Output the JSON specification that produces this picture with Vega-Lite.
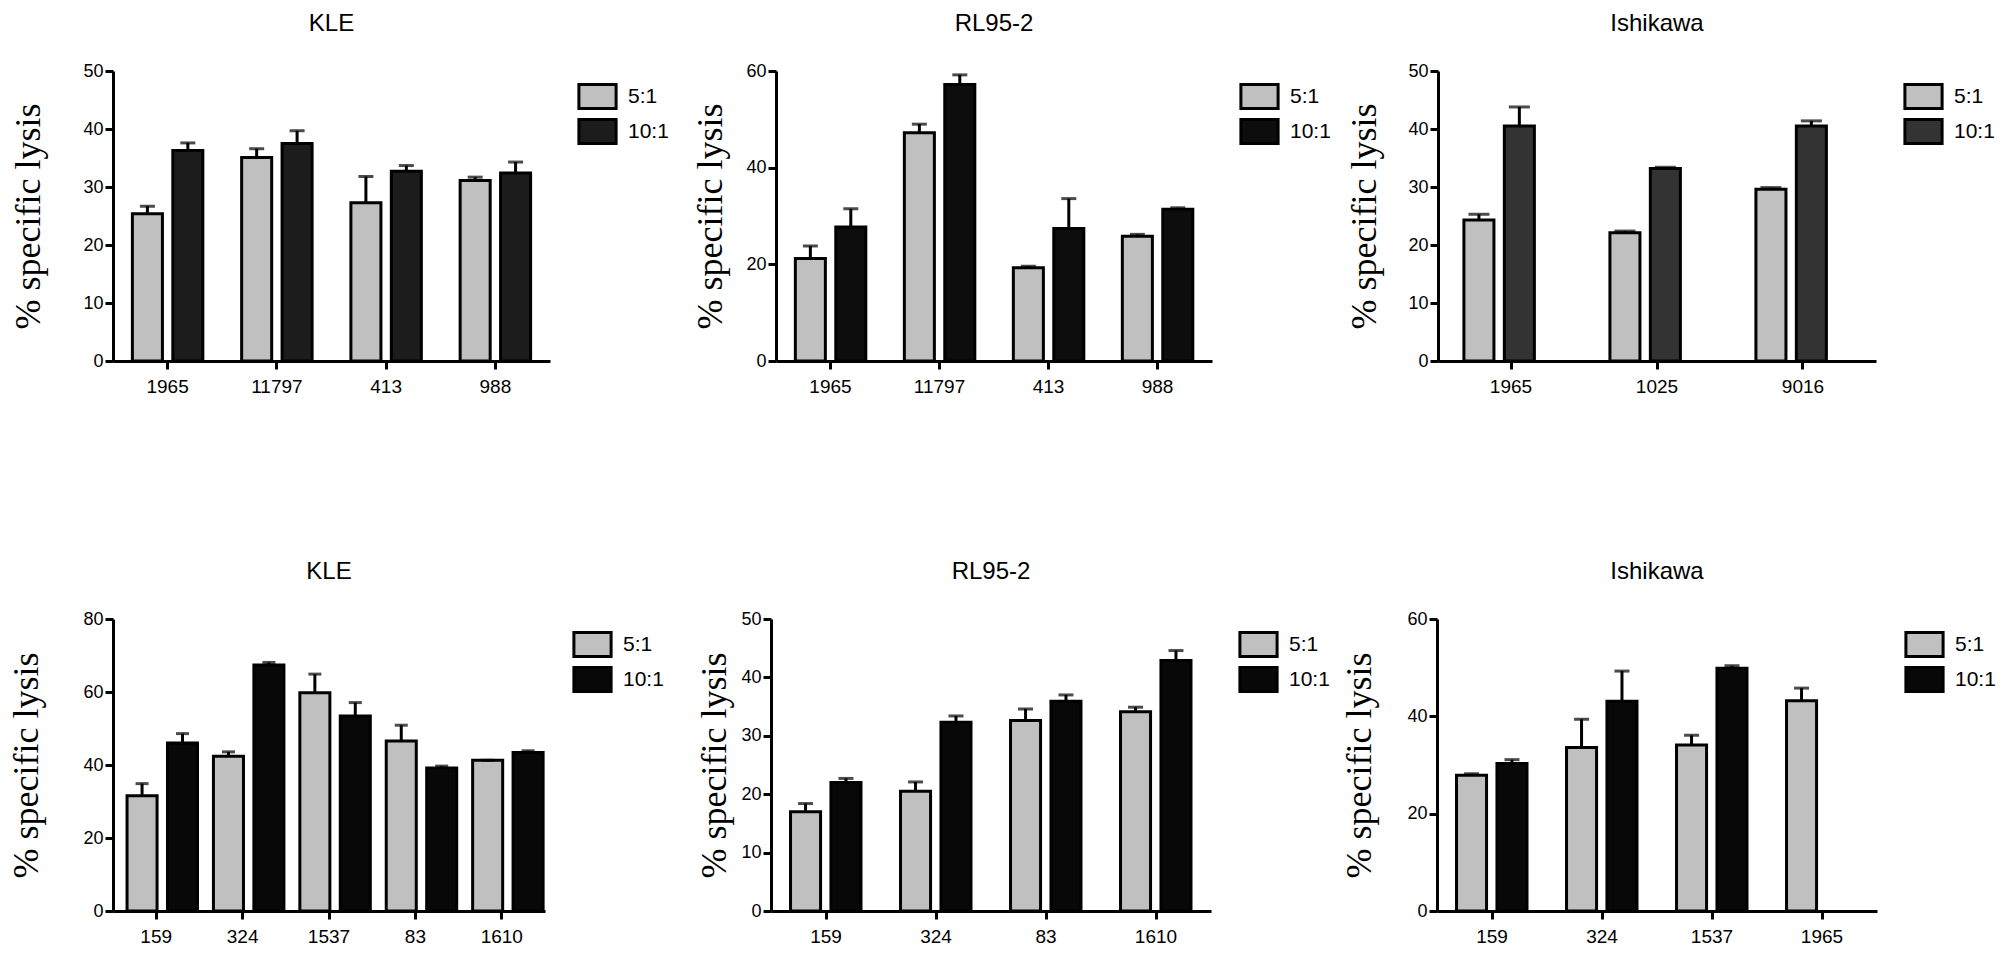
{
  "$schema": "https://vega.github.io/schema/vega-lite/v6.json",
  "padding": {"left": 8, "top": 12, "right": 0, "bottom": 0},
  "background": "white",
  "datasets": {
    "d": [
      {"p": "tk", "cat": "1965", "r": "5:1", "v": 25.4, "hi": 26.7},
      {"p": "tk", "cat": "1965", "r": "10:1", "v": 36.3, "hi": 37.6},
      {"p": "tk", "cat": "11797", "r": "5:1", "v": 35.1, "hi": 36.6},
      {"p": "tk", "cat": "11797", "r": "10:1", "v": 37.5, "hi": 39.7},
      {"p": "tk", "cat": "413", "r": "5:1", "v": 27.3, "hi": 31.8},
      {"p": "tk", "cat": "413", "r": "10:1", "v": 32.7, "hi": 33.7},
      {"p": "tk", "cat": "988", "r": "5:1", "v": 31.1, "hi": 31.7},
      {"p": "tk", "cat": "988", "r": "10:1", "v": 32.4, "hi": 34.3},

      {"p": "tr", "cat": "1965", "r": "5:1", "v": 21.2, "hi": 23.8},
      {"p": "tr", "cat": "1965", "r": "10:1", "v": 27.7, "hi": 31.5},
      {"p": "tr", "cat": "11797", "r": "5:1", "v": 47.2, "hi": 49.0},
      {"p": "tr", "cat": "11797", "r": "10:1", "v": 57.2, "hi": 59.2},
      {"p": "tr", "cat": "413", "r": "5:1", "v": 19.3, "hi": 19.6},
      {"p": "tr", "cat": "413", "r": "10:1", "v": 27.4, "hi": 33.6},
      {"p": "tr", "cat": "988", "r": "5:1", "v": 25.8, "hi": 26.2},
      {"p": "tr", "cat": "988", "r": "10:1", "v": 31.4, "hi": 31.7},

      {"p": "ti", "cat": "1965", "r": "5:1", "v": 24.3, "hi": 25.3},
      {"p": "ti", "cat": "1965", "r": "10:1", "v": 40.5, "hi": 43.8},
      {"p": "ti", "cat": "1025", "r": "5:1", "v": 22.1, "hi": 22.4},
      {"p": "ti", "cat": "1025", "r": "10:1", "v": 33.2, "hi": 33.4},
      {"p": "ti", "cat": "9016", "r": "5:1", "v": 29.6, "hi": 29.9},
      {"p": "ti", "cat": "9016", "r": "10:1", "v": 40.5, "hi": 41.4},

      {"p": "bk", "cat": "159", "r": "5:1", "v": 31.6, "hi": 34.9},
      {"p": "bk", "cat": "159", "r": "10:1", "v": 46.0, "hi": 48.6},
      {"p": "bk", "cat": "324", "r": "5:1", "v": 42.4, "hi": 43.6},
      {"p": "bk", "cat": "324", "r": "10:1", "v": 67.4, "hi": 68.1},
      {"p": "bk", "cat": "1537", "r": "5:1", "v": 59.8, "hi": 64.9},
      {"p": "bk", "cat": "1537", "r": "10:1", "v": 53.4, "hi": 57.1},
      {"p": "bk", "cat": "83", "r": "5:1", "v": 46.6, "hi": 50.9},
      {"p": "bk", "cat": "83", "r": "10:1", "v": 39.2, "hi": 39.7},
      {"p": "bk", "cat": "1610", "r": "5:1", "v": 41.3, "hi": 41.3},
      {"p": "bk", "cat": "1610", "r": "10:1", "v": 43.4, "hi": 43.9},

      {"p": "br", "cat": "159", "r": "5:1", "v": 17.0, "hi": 18.4},
      {"p": "br", "cat": "159", "r": "10:1", "v": 22.0, "hi": 22.7},
      {"p": "br", "cat": "324", "r": "5:1", "v": 20.5, "hi": 22.1},
      {"p": "br", "cat": "324", "r": "10:1", "v": 32.3, "hi": 33.4},
      {"p": "br", "cat": "83", "r": "5:1", "v": 32.6, "hi": 34.6},
      {"p": "br", "cat": "83", "r": "10:1", "v": 35.9, "hi": 37.0},
      {"p": "br", "cat": "1610", "r": "5:1", "v": 34.1, "hi": 34.9},
      {"p": "br", "cat": "1610", "r": "10:1", "v": 42.9, "hi": 44.6},

      {"p": "bi", "cat": "159", "r": "5:1", "v": 27.9, "hi": 28.2},
      {"p": "bi", "cat": "159", "r": "10:1", "v": 30.3, "hi": 31.1},
      {"p": "bi", "cat": "324", "r": "5:1", "v": 33.6, "hi": 39.4},
      {"p": "bi", "cat": "324", "r": "10:1", "v": 43.1, "hi": 49.3},
      {"p": "bi", "cat": "1537", "r": "5:1", "v": 34.1, "hi": 36.1},
      {"p": "bi", "cat": "1537", "r": "10:1", "v": 49.9, "hi": 50.4},
      {"p": "bi", "cat": "1965", "r": "5:1", "v": 43.2, "hi": 45.8}
    ]
  },
  "data": {"name": "d"},
  "spacing": 164,
  "resolve": {"scale": {"color": "independent"}, "legend": {"color": "independent"}},
  "vconcat": [
    {
      "spacing": 226,
      "bounds": "flush",
      "resolve": {"scale": {"color": "independent"}, "legend": {"color": "independent"}},
      "hconcat": [
        {
          "width": 437, "height": 290,
          "title": "KLE",
          "transform": [{"filter": "datum.p == 'tk'"}],
          "encoding": {
            "x": {"field": "cat", "type": "nominal", "sort": null, "scale": {"paddingInner": 0.355, "paddingOuter": 0.1775}},
            "xOffset": {"field": "r", "type": "nominal", "scale": {"domain": ["5:1", "10:1"], "paddingInner": 0.257, "paddingOuter": 0}},
            "y": {"field": "v", "type": "quantitative", "title": "% specific lysis", "scale": {"domain": [0, 50], "nice": false}, "axis": {"values": [0, 10, 20, 30, 40, 50], "titlePadding": 35}}
          },
          "layer": [
            {"mark": {"type": "bar", "stroke": "black", "strokeWidth": 3},
             "encoding": {"color": {"field": "r", "type": "nominal", "scale": {"domain": ["5:1", "10:1"], "range": ["#c0c0c0", "#1c1c1c"]}, "legend": {"title": null}}}},
            {"mark": {"type": "rule", "color": "black", "strokeWidth": 3}, "encoding": {"y2": {"field": "hi"}}},
            {"mark": {"type": "tick", "color": "black", "thickness": 3, "size": 15}, "encoding": {"y": {"field": "hi", "type": "quantitative", "title": "% specific lysis", "scale": {"domain": [0, 50], "nice": false}}}}
          ]
        },
        {
          "width": 436, "height": 290,
          "title": "RL95-2",
          "transform": [{"filter": "datum.p == 'tr'"}],
          "encoding": {
            "x": {"field": "cat", "type": "nominal", "sort": null, "scale": {"paddingInner": 0.355, "paddingOuter": 0.1775}},
            "xOffset": {"field": "r", "type": "nominal", "scale": {"domain": ["5:1", "10:1"], "paddingInner": 0.257, "paddingOuter": 0}},
            "y": {"field": "v", "type": "quantitative", "title": "% specific lysis", "scale": {"domain": [0, 60], "nice": false}, "axis": {"values": [0, 20, 40, 60], "titlePadding": 16}}
          },
          "layer": [
            {"mark": {"type": "bar", "stroke": "black", "strokeWidth": 3},
             "encoding": {"color": {"field": "r", "type": "nominal", "scale": {"domain": ["5:1", "10:1"], "range": ["#c0c0c0", "#0d0d0d"]}, "legend": {"title": null}}}},
            {"mark": {"type": "rule", "color": "black", "strokeWidth": 3}, "encoding": {"y2": {"field": "hi"}}},
            {"mark": {"type": "tick", "color": "black", "thickness": 3, "size": 15}, "encoding": {"y": {"field": "hi", "type": "quantitative", "title": "% specific lysis", "scale": {"domain": [0, 60], "nice": false}}}}
          ]
        },
        {
          "width": 438, "height": 290,
          "title": "Ishikawa",
          "transform": [{"filter": "datum.p == 'ti'"}],
          "encoding": {
            "x": {"field": "cat", "type": "nominal", "sort": null, "scale": {"paddingInner": 0.355, "paddingOuter": 0.1775}},
            "xOffset": {"field": "r", "type": "nominal", "scale": {"domain": ["5:1", "10:1"], "paddingInner": 0.257, "paddingOuter": 0}},
            "y": {"field": "v", "type": "quantitative", "title": "% specific lysis", "scale": {"domain": [0, 50], "nice": false}, "axis": {"values": [0, 10, 20, 30, 40, 50], "titlePadding": 24}}
          },
          "layer": [
            {"mark": {"type": "bar", "stroke": "black", "strokeWidth": 3},
             "encoding": {"color": {"field": "r", "type": "nominal", "scale": {"domain": ["5:1", "10:1"], "range": ["#c0c0c0", "#333333"]}, "legend": {"title": null}}}},
            {"mark": {"type": "rule", "color": "black", "strokeWidth": 3}, "encoding": {"y2": {"field": "hi"}}},
            {"mark": {"type": "tick", "color": "black", "thickness": 3, "size": 21}, "encoding": {"y": {"field": "hi", "type": "quantitative", "title": "% specific lysis", "scale": {"domain": [0, 50], "nice": false}}}}
          ]
        }
      ]
    },
    {
      "spacing": 226,
      "bounds": "flush",
      "resolve": {"scale": {"color": "independent"}, "legend": {"color": "independent"}},
      "hconcat": [
        {
          "width": 432, "height": 292,
          "title": "KLE",
          "transform": [{"filter": "datum.p == 'bk'"}],
          "encoding": {
            "x": {"field": "cat", "type": "nominal", "sort": null, "scale": {"paddingInner": 0.325, "paddingOuter": 0.1625}},
            "xOffset": {"field": "r", "type": "nominal", "scale": {"domain": ["5:1", "10:1"], "paddingInner": 0.257, "paddingOuter": 0}},
            "y": {"field": "v", "type": "quantitative", "title": "% specific lysis", "scale": {"domain": [0, 80], "nice": false}, "axis": {"values": [0, 20, 40, 60, 80], "titlePadding": 37}}
          },
          "layer": [
            {"mark": {"type": "bar", "stroke": "black", "strokeWidth": 3},
             "encoding": {"color": {"field": "r", "type": "nominal", "scale": {"domain": ["5:1", "10:1"], "range": ["#c0c0c0", "#080808"]}, "legend": {"title": null}}}},
            {"mark": {"type": "rule", "color": "black", "strokeWidth": 3}, "encoding": {"y2": {"field": "hi"}}},
            {"mark": {"type": "tick", "color": "black", "thickness": 3, "size": 13}, "encoding": {"y": {"field": "hi", "type": "quantitative", "title": "% specific lysis", "scale": {"domain": [0, 80], "nice": false}}}}
          ]
        },
        {
          "width": 440, "height": 292,
          "title": "RL95-2",
          "transform": [{"filter": "datum.p == 'br'"}],
          "encoding": {
            "x": {"field": "cat", "type": "nominal", "sort": null, "scale": {"paddingInner": 0.355, "paddingOuter": 0.1775}},
            "xOffset": {"field": "r", "type": "nominal", "scale": {"domain": ["5:1", "10:1"], "paddingInner": 0.257, "paddingOuter": 0}},
            "y": {"field": "v", "type": "quantitative", "title": "% specific lysis", "scale": {"domain": [0, 50], "nice": false}, "axis": {"values": [0, 10, 20, 30, 40, 50], "titlePadding": 7}}
          },
          "layer": [
            {"mark": {"type": "bar", "stroke": "black", "strokeWidth": 3},
             "encoding": {"color": {"field": "r", "type": "nominal", "scale": {"domain": ["5:1", "10:1"], "range": ["#c0c0c0", "#080808"]}, "legend": {"title": null}}}},
            {"mark": {"type": "rule", "color": "black", "strokeWidth": 3}, "encoding": {"y2": {"field": "hi"}}},
            {"mark": {"type": "tick", "color": "black", "thickness": 3, "size": 15}, "encoding": {"y": {"field": "hi", "type": "quantitative", "title": "% specific lysis", "scale": {"domain": [0, 50], "nice": false}}}}
          ]
        },
        {
          "width": 440, "height": 292,
          "title": "Ishikawa",
          "transform": [{"filter": "datum.p == 'bi'"}],
          "encoding": {
            "x": {"field": "cat", "type": "nominal", "sort": null, "scale": {"paddingInner": 0.355, "paddingOuter": 0.1775}},
            "xOffset": {"field": "r", "type": "nominal", "scale": {"domain": ["5:1", "10:1"], "paddingInner": 0.257, "paddingOuter": 0}},
            "y": {"field": "v", "type": "quantitative", "title": "% specific lysis", "scale": {"domain": [0, 60], "nice": false}, "axis": {"values": [0, 20, 40, 60], "titlePadding": 28}}
          },
          "layer": [
            {"mark": {"type": "bar", "stroke": "black", "strokeWidth": 3},
             "encoding": {"color": {"field": "r", "type": "nominal", "scale": {"domain": ["5:1", "10:1"], "range": ["#c0c0c0", "#080808"]}, "legend": {"title": null}}}},
            {"mark": {"type": "rule", "color": "black", "strokeWidth": 3}, "encoding": {"y2": {"field": "hi"}}},
            {"mark": {"type": "tick", "color": "black", "thickness": 3, "size": 15}, "encoding": {"y": {"field": "hi", "type": "quantitative", "title": "% specific lysis", "scale": {"domain": [0, 60], "nice": false}}}}
          ]
        }
      ]
    }
  ],
  "config": {
    "view": {"stroke": null},
    "axis": {
      "grid": false,
      "domainColor": "black", "domainWidth": 3,
      "tickColor": "black", "tickWidth": 3, "tickSize": 8,
      "labelColor": "black", "labelFont": "Liberation Sans", "labelFontSize": 18, "labelPadding": 2,
      "titleColor": "black", "titleFont": "Liberation Serif", "titleFontSize": 36, "titleFontWeight": "normal"
    },
    "axisX": {"title": null, "labelAngle": 0, "labelFontSize": 19, "labelPadding": 8},
    "legend": {
      "symbolType": "M-1.55,-1H1.55V1H-1.55Z",
      "symbolSize": 576,
      "symbolStrokeColor": "black",
      "symbolStrokeWidth": 3,
      "symbolOpacity": 1,
      "labelFont": "Liberation Sans", "labelFontSize": 21, "labelColor": "black",
      "labelOffset": 17,
      "rowPadding": -2,
      "offset": 22,
      "padding": 12
    },
    "title": {"font": "Liberation Sans", "fontSize": 24, "fontWeight": "normal", "color": "black", "frame": "group", "offset": 26}
  }
}
